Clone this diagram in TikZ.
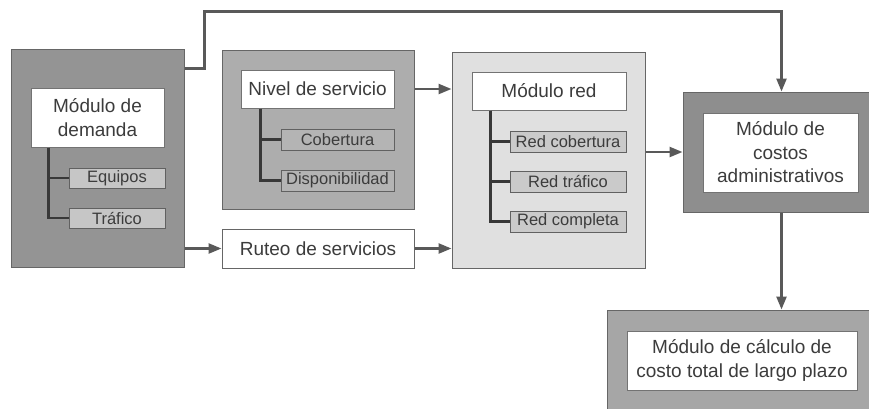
\documentclass[tikz,border=0pt]{standalone}
\usepackage{fontspec}
\setmainfont{Liberation Sans}
\usetikzlibrary{arrows.meta,calc}
\definecolor{txt}{HTML}{3C3C3C}
\definecolor{demfill}{HTML}{949494}
\definecolor{nivfill}{HTML}{ADADAD}
\definecolor{redfill}{HTML}{E0E0E0}
\definecolor{cosfill}{HTML}{8E8E8E}
\definecolor{botfill}{HTML}{A6A6A6}
\definecolor{subdem}{HTML}{C6C6C6}
\definecolor{subniv}{HTML}{B4B4B4}
\definecolor{subred}{HTML}{CACACA}
\tikzset{
  outerbox/.style={draw=black!60, line width=1pt, inner sep=0pt},
  whitebox/.style={draw=black!55, fill=white, line width=1pt, align=center,
    font=\fontsize{19}{23.5}\selectfont, text=txt, inner sep=0pt},
  subbox/.style={draw=black!62, line width=1pt, font=\fontsize{16.5}{19}\selectfont,
    text=txt, inner sep=0pt, minimum width=96pt, minimum height=20pt},
  conn/.style={draw=black!65, line width=2.4pt, -{Triangle[length=13pt,width=10pt]}},
  treeline/.style={draw=black!78, line width=2.2pt}
}
\begin{document}
\begin{tikzpicture}[x=1pt,y=-1pt]
\useasboundingbox (0,0) rectangle (869,408);
\clip (0,0) rectangle (869,408);
\fill[white] (0,0) rectangle (869,408);

% Demand module
\node[outerbox, fill=demfill, minimum width=173pt, minimum height=218pt] (demo) at (97.5,158) {};
\node[whitebox, minimum width=133pt, minimum height=59pt] (demi) at (97.5,117.5) {Módulo de\\demanda};
\node[subbox, fill=subdem] (equ) at (117,178) {Equipos};
\node[subbox, fill=subdem] (tra) at (117,218) {Tráfico};
\draw[treeline] ($(demi.south west)+(18,0)$) |- (equ.west);
\draw[treeline] ($(demi.south west)+(18,0)$) |- (tra.west);

% Service level
\node[outerbox, fill=nivfill, minimum width=192pt, minimum height=159pt] (nivo) at (318,129.5) {};
\node[whitebox, minimum width=153pt, minimum height=38pt] (nivi) at (317.5,89) {Nivel de servicio};
\node[subbox, fill=subniv, minimum width=113pt, minimum height=21pt] (cob) at (337.5,139.5) {Cobertura};
\node[subbox, fill=subniv, minimum width=113pt, minimum height=21pt] (disp) at (337.5,180.5) {Disponibilidad};
\draw[treeline] ($(nivi.south west)+(20,0)$) |- (cob.west);
\draw[treeline] ($(nivi.south west)+(20,0)$) |- (disp.west);

% Routing
\node[whitebox, draw=black!60, minimum width=192pt, minimum height=39pt] (rut) at (318,248.5) {Ruteo de servicios};

% Network module
\node[outerbox, fill=redfill, minimum width=193pt, minimum height=216pt] (redo) at (548.5,160) {};
\node[whitebox, minimum width=154pt, minimum height=38pt] (redi) at (549,91) {Módulo red};
\node[subbox, fill=subred, minimum width=116pt, minimum height=21pt] (rc) at (568,141.5) {Red cobertura};
\node[subbox, fill=subred, minimum width=116pt, minimum height=21pt] (rt) at (568,181.5) {Red tráfico};
\node[subbox, fill=subred, minimum width=116pt, minimum height=21pt] (rcomp) at (568,221.5) {Red completa};
\draw[treeline] ($(redi.south west)+(19,0)$) |- (rc.west);
\draw[treeline] ($(redi.south west)+(19,0)$) |- (rt.west);
\draw[treeline] ($(redi.south west)+(19,0)$) |- (rcomp.west);

% Administrative costs
\node[outerbox, fill=cosfill, minimum width=197pt, minimum height=120pt] (costo) at (781.5,152) {};
\node[whitebox, minimum width=155pt, minimum height=79pt] (costi) at (780.5,152.5) {Módulo de\\costos\\administrativos};

% Long-term total cost
\node[outerbox, fill=botfill, minimum width=273pt, minimum height=110pt] (boto) at (743.5,365) {};
\node[whitebox, minimum width=230pt, minimum height=59pt] (boti) at (742,360.5) {Módulo de cálculo de\\costo total de largo plazo};

% Connectors
\draw[conn] (demo.east |- rut.west) -- (rut.west);
\draw[conn] (nivo.east |- nivi.east) -- (redo.west |- nivi.east);
\draw[conn] (rut.east) -- (redo.west |- rut.east);
\draw[conn] (redo.east |- costo.west) -- (costo.west);
\draw[conn] (costo.south) -- (costo.south |- boto.north);
\draw[conn] ($(demo.north east)+(0,20)$) -- ++(20,0) |- ($(costo.north)+(0,-80)$) -- (costo.north);
\end{tikzpicture}
\end{document}
